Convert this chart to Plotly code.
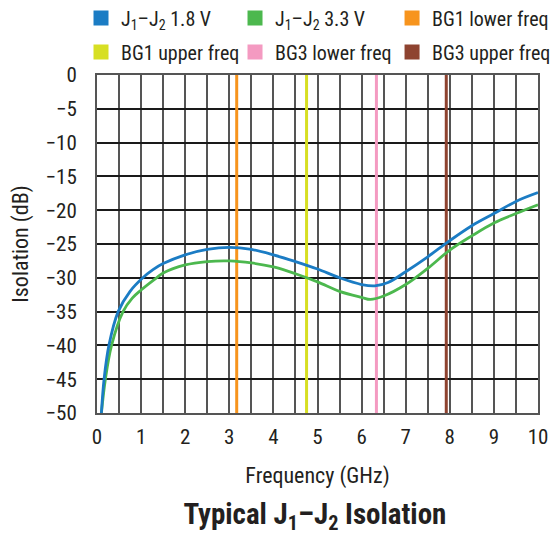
import plotly.graph_objects as go

freq_18 = [0.1, 0.16, 0.27, 0.48, 0.75, 1.04, 1.27, 1.5, 2.0, 2.5, 3.0, 3.5, 4.0, 4.5, 5.0, 5.5, 6.0, 6.3, 6.6, 7.0, 7.5, 8.0, 8.5, 9.0, 9.5, 10.0]
iso_18 = [-50, -45.0, -40.0, -35.0, -32.0, -30.0, -28.8, -27.9, -26.6, -25.8, -25.5, -25.8, -26.6, -27.6, -28.7, -30.0, -31.0, -31.2, -30.7, -29.1, -26.9, -24.5, -22.3, -20.5, -18.7, -17.4]

freq_33 = [0.1, 0.19, 0.33, 0.59, 0.8, 1.0, 1.35, 1.5, 2.0, 2.5, 3.0, 3.5, 4.0, 4.5, 5.0, 5.5, 6.0, 6.2, 6.5, 7.0, 7.5, 8.0, 8.5, 9.0, 9.5, 10.0]
iso_33 = [-50, -45.0, -40.0, -35.0, -33.0, -31.8, -30.0, -29.3, -28.1, -27.6, -27.5, -27.8, -28.4, -29.4, -30.6, -32.0, -32.9, -33.2, -32.7, -31.0, -28.6, -25.9, -23.8, -21.9, -20.5, -19.2]

marker_names = ["BG1 lower freq", "BG1 upper freq", "BG3 lower freq", "BG3 upper freq"]
marker_freqs = [3.168, 4.752, 6.336, 7.920]
marker_colors = ["#f7941d", "#d7df23", "#f49ac1", "#8e4330"]

y_range = [-50, 0]
x_ticks = list(range(0, 11))
y_ticks = list(range(-50, 1, 5))

FONT = "Liberation Sans Narrow, Roboto Condensed, Arial Narrow, sans-serif"
TXT = "#231f20"
BLUE = "#1b7cc4"
GREEN = "#4cb84e"

fig = go.Figure()

for name, f, c in zip(marker_names, marker_freqs, marker_colors):
    fig.add_trace(go.Scatter(x=[f, f], y=y_range, mode="lines",
                             line=dict(color=c, width=3), showlegend=False, hoverinfo="skip"))

fig.add_trace(go.Scatter(x=freq_33, y=iso_33, mode="lines", line=dict(color=GREEN, width=2.8, shape="spline", smoothing=1.0),
                         showlegend=False, name="J1–J2 3.3 V"))
fig.add_trace(go.Scatter(x=freq_18, y=iso_18, mode="lines", line=dict(color=BLUE, width=2.8, shape="spline", smoothing=1.0),
                         showlegend=False, name="J1–J2 1.8 V"))

# legend entries, one legend per slot (3 columns x 2 rows)
legend_items = [
    ("J<sub>1</sub>–J<sub>2</sub> 1.8 V", BLUE),
    ("J<sub>1</sub>–J<sub>2</sub> 3.3 V", GREEN),
    (marker_names[0], marker_colors[0]),
    (marker_names[1], marker_colors[1]),
    (marker_names[2], marker_colors[2]),
    (marker_names[3], marker_colors[3]),
]
col_x = [0.1325, 0.412, 0.697]
row_y = [0.981, 0.9165]
legend_ids = ["legend", "legend2", "legend3", "legend4", "legend5", "legend6"]

legend_layout = {}
for i, ((name, c), lid) in enumerate(zip(legend_items, legend_ids)):
    fig.add_trace(go.Scatter(x=[None], y=[None], mode="markers", name=name,
                             marker=dict(symbol="square", size=15, color=c), legend=lid))
    legend_layout[lid] = dict(orientation="h", xref="container", yref="container",
                              x=col_x[i % 3], xanchor="left", y=row_y[i // 3], yanchor="middle",
                              font=dict(family=FONT, size=20, color=TXT),
                              bgcolor="rgba(0,0,0,0)", itemwidth=30)

fig.update_layout(
    width=551, height=527,
    margin=dict(l=89, r=21, t=67, b=122, autoexpand=False),
    paper_bgcolor="white", plot_bgcolor="white",
    font=dict(family=FONT, color=TXT, size=21),
    showlegend=True,
    title=dict(text="<b>Typical J<sub>1</sub>–J<sub>2</sub> Isolation</b>", x=0.557, xanchor="center",
               xref="container", yref="container", y=0.04, yanchor="middle",
               font=dict(family=FONT, size=29, color=TXT)),
    xaxis=dict(range=[0, 10], tickvals=x_ticks, showgrid=True, gridcolor="#555555", gridwidth=2,
               minor=dict(dtick=0.5, showgrid=True, gridcolor="#555555", gridwidth=2),
               showline=True, linecolor="#555555", linewidth=2, mirror=True, zeroline=False,
               ticks="", ticklabelstandoff=4,
               title=dict(text="Frequency (GHz)", standoff=19, font=dict(size=22)),
               tickfont=dict(size=21)),
    yaxis=dict(range=y_range, tickvals=y_ticks, showgrid=True, gridcolor="#1a1a1a", gridwidth=2,
               showline=True, linecolor="#555555", linewidth=2, mirror=True, zeroline=False,
               ticks="", ticklabelstandoff=14,
               title=dict(text="Isolation (dB)", standoff=12, font=dict(size=22)),
               tickfont=dict(size=21)),
    **legend_layout,
)

fig.write_html("out.html")
